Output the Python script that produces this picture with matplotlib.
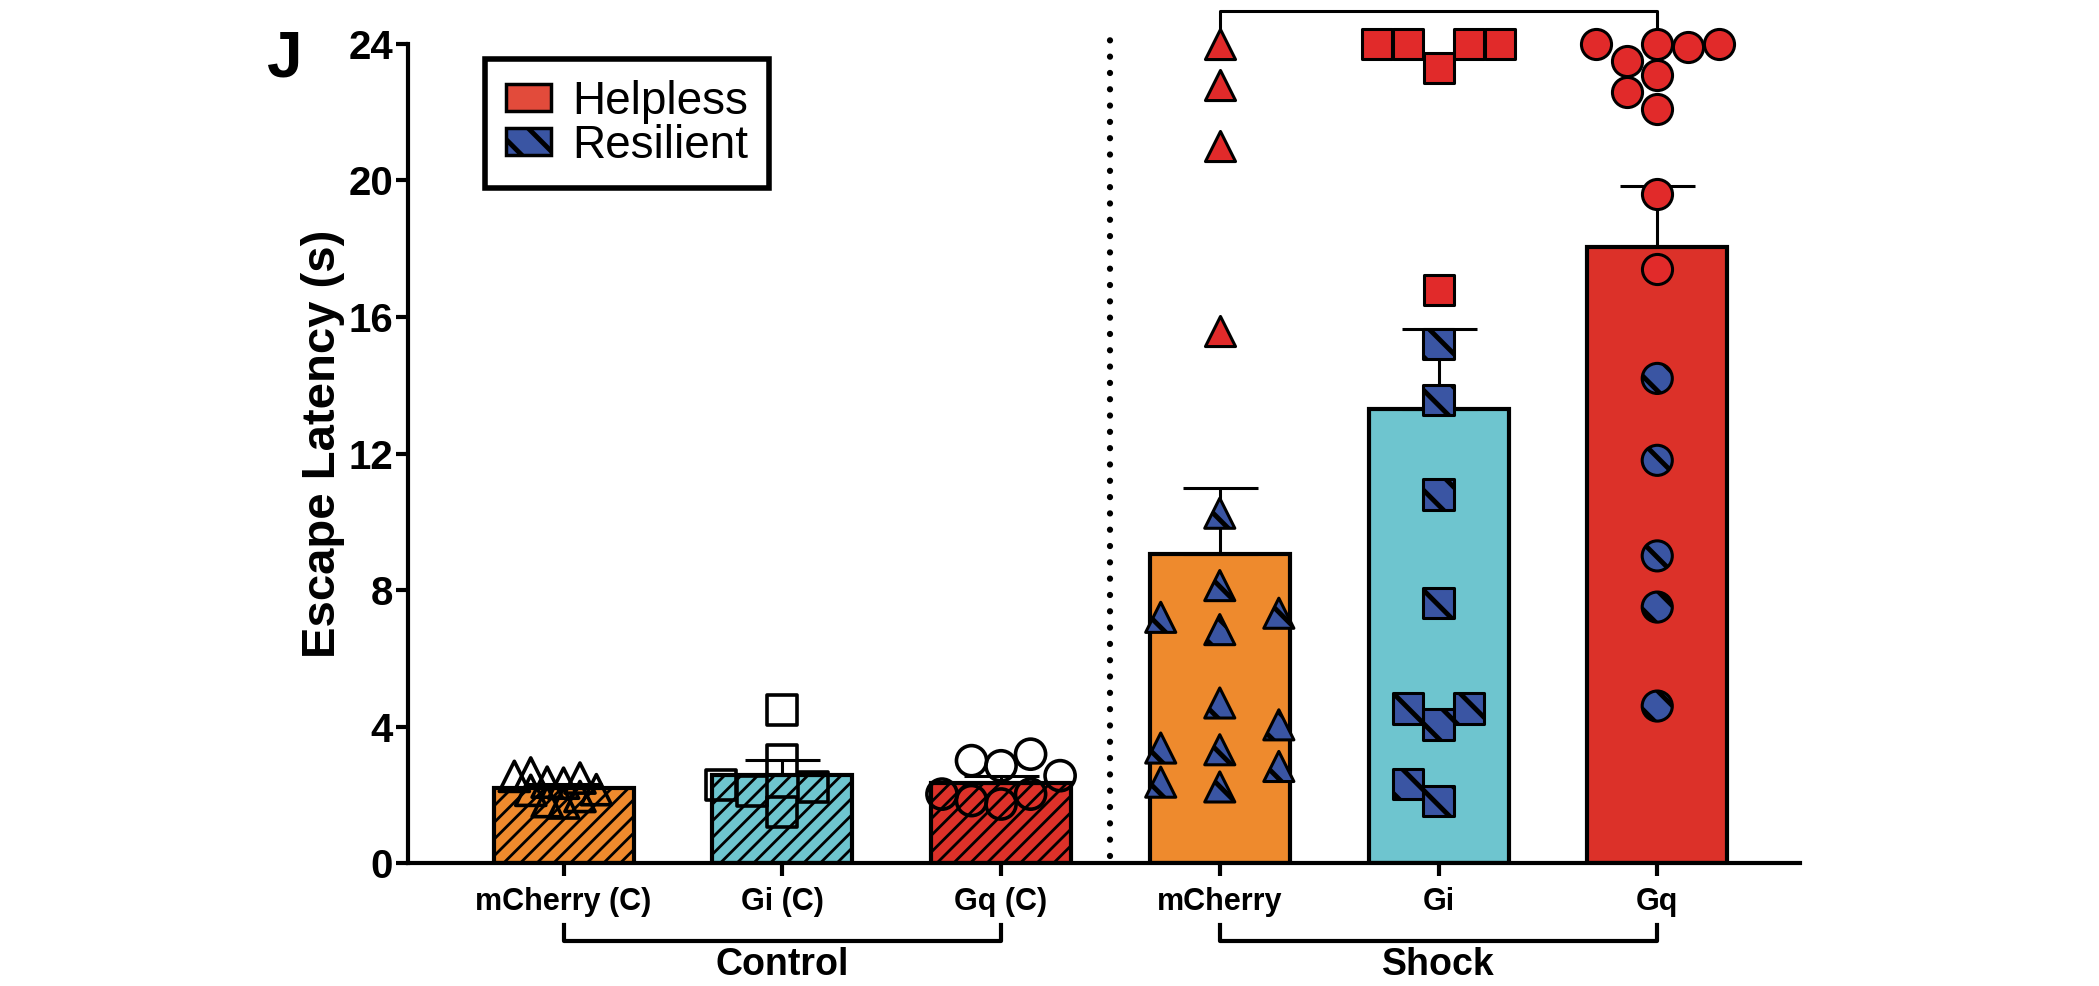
import numpy as np
import matplotlib
matplotlib.use("Agg")
import matplotlib.pyplot as plt
import matplotlib.patches as mpatches
from matplotlib.transforms import blended_transform_factory

plt.rcParams["font.family"] = ["Liberation Sans", "DejaVu Sans"]

# -------------------------------------------------------
# Data
# -------------------------------------------------------
GROUPS = ["mCherry (C)", "Gi (C)", "Gq (C)", "mCherry", "Gi", "Gq"]
MEANS = [2.2, 2.58, 2.36, 9.05, 13.3, 18.05]
SEMS = [0.11, 0.45, 0.2, 1.95, 2.35, 1.8]

CTRL_MCHERRY = [1.76, 1.8, 1.95, 2.13, 2.15, 2.34, 2.37, 2.49, 2.54, 2.64]
CTRL_GI = [1.49, 2.12, 2.22, 2.28, 3.03, 4.49]
CTRL_GQ = [1.73, 1.83, 2.02, 2.02, 2.56, 2.85, 3.0, 3.19]

SHOCK_MCHERRY_HELPLESS = [15.6, 21.0, 22.8, 24.0]
SHOCK_MCHERRY_RESILIENT = [2.23, 2.37, 2.83, 3.32, 3.37, 4.05, 4.69, 6.84,
                           7.2, 7.32, 8.13, 10.25]
SHOCK_GI_HELPLESS = [16.8, 23.3, 24.0, 24.0, 24.0, 24.0]
SHOCK_GI_RESILIENT = [1.81, 2.31, 4.06, 4.53, 4.53, 7.63, 10.8, 13.56, 15.2]
SHOCK_GQ_HELPLESS = [17.4, 19.6, 22.1, 22.6, 23.1, 23.5, 23.9, 24.0, 24.0, 24.0]
SHOCK_GQ_RESILIENT = [4.6, 7.5, 9.0, 11.8, 14.2]

GROUP_LABELS = ["Control", "Shock"]
LEGEND_LABELS = ["Helpless", "Resilient"]

# -------------------------------------------------------
# Style
# -------------------------------------------------------
BAR_COLORS = ["#EE8A2D", "#6EC5CF", "#DC3129", "#EE8A2D", "#6EC5CF", "#DC3129"]
MARKERS = ["^", "s", "o", "^", "s", "o"]
RED = "#E12A2A"
BLUE = "#3A55A3"
STEP = [0.075, 0.14, 0.135, 0.27, 0.14, 0.14]   # swarm column spacing
GAP = [0.5, 0.8, 0.85, 0.85, 0.85, 0.85]        # vertical overlap limit
MS = 470


def swarm(values, step, gap):
    """Simple beeswarm: put each point in the nearest free column."""
    values = np.asarray(values, dtype=float)
    offs = np.zeros(len(values))
    placed = []
    cands = [0] + [s * j for j in range(1, 20) for s in (-1, 1)]
    for i in np.argsort(values, kind="stable"):
        v = values[i]
        for c in cands:
            if all(not (pc == c and abs(v - pv) < gap) for pv, pc in placed):
                break
        offs[i] = c * step
        placed.append((v, c))
    return offs


def hatch_lw(artist, lw):
    if hasattr(artist, "set_hatch_linewidth"):
        artist.set_hatch_linewidth(lw)
    draw = artist.draw

    def _draw(renderer, _d=draw):
        with plt.rc_context({"hatch.linewidth": lw}):
            _d(renderer)
    artist.draw = _draw


fig = plt.figure(figsize=(20.99, 9.86), dpi=100)
ax = fig.add_axes([0.1945, 0.1247, 0.6632, 0.8307])
x = np.arange(len(GROUPS))

bars = ax.bar(x, MEANS, width=0.64, color=BAR_COLORS, edgecolor="black",
              linewidth=3, zorder=2)
for b in bars[:3]:
    b.set_hatch("//")
    hatch_lw(b, 2)

ax.errorbar(x, MEANS, yerr=[np.zeros(len(MEANS)), SEMS], fmt="none",
            ecolor="black", elinewidth=2.2, capsize=27, capthick=2.2, zorder=3)

# control points (open markers)
for i, vals in enumerate([CTRL_MCHERRY, CTRL_GI, CTRL_GQ]):
    offs = swarm(vals, STEP[i], GAP[i])
    ax.scatter(x[i] + offs, vals, marker=MARKERS[i], s=MS, facecolor="none",
               edgecolor="black", linewidths=2.6, zorder=4, clip_on=False)

# shock points (helpless red, resilient blue hatched)
shock = [(SHOCK_MCHERRY_HELPLESS, SHOCK_MCHERRY_RESILIENT),
         (SHOCK_GI_HELPLESS, SHOCK_GI_RESILIENT),
         (SHOCK_GQ_HELPLESS, SHOCK_GQ_RESILIENT)]
for k, (hel, res) in enumerate(shock):
    i = k + 3
    offs = swarm(list(hel) + list(res), STEP[i], GAP[i])
    ax.scatter(x[i] + offs[:len(hel)], hel, marker=MARKERS[i], s=MS,
               facecolor=RED, edgecolor="black", linewidths=2.2, zorder=4,
               clip_on=False)
    sc = ax.scatter(x[i] + offs[len(hel):], res, marker=MARKERS[i], s=MS,
                    facecolor=BLUE, edgecolor="black", linewidths=2.2,
                    hatch="\\", zorder=4, clip_on=False)
    hatch_lw(sc, 3.5)

# dotted separator
ax.plot([2.5, 2.5], [0.2, 24.45], color="black", lw=4.5,
        linestyle=(0, (0.01, 2.6)), dash_capstyle="round", clip_on=False,
        zorder=1)

ax.set_xlim(-0.71, 5.654)
ax.set_ylim(0, 24)
ax.set_yticks(np.arange(0, 25, 4))
ax.set_xticks(x)
ax.set_xticklabels(GROUPS, fontsize=22, fontweight="bold")
for lab in ax.get_yticklabels():
    lab.set_fontweight("bold")
ax.tick_params(axis="y", labelsize=29, length=9, width=3, pad=2)
ax.tick_params(axis="x", length=9, width=3, pad=8)
for s in ["top", "right"]:
    ax.spines[s].set_visible(False)
for s in ["left", "bottom"]:
    ax.spines[s].set_linewidth(3)

# brackets
tr = blended_transform_factory(ax.transData, fig.transFigure)
for g, (a, b) in enumerate([(0, 2), (3, 5)]):
    ax.plot([a, a, b, b], [0.062, 0.046, 0.046, 0.062], color="black",
            lw=3, transform=tr, clip_on=False)
    ax.text((a + b) / 2, 0.003, GROUP_LABELS[g], transform=tr, ha="center",
            va="bottom", fontsize=27, fontweight="bold")
ax.plot([3, 3, 5, 5], [0.973, 0.989, 0.989, 0.973], color="black", lw=2.2,
        transform=tr, clip_on=False)

fig.text(0.154, 0.55, "Escape Latency (s)", rotation=90, ha="center",
         va="center", fontsize=34, fontweight="bold")
fig.text(0.1355, 0.94, "J", ha="center", va="center", fontsize=46,
         fontweight="bold")

handles = [mpatches.Patch(facecolor="#E24B3B", edgecolor="black", lw=2.5),
           mpatches.Patch(facecolor=BLUE, edgecolor="black", lw=2.5, hatch="\\")]
leg = fig.legend(handles, LEGEND_LABELS, loc="upper left",
                 bbox_to_anchor=(485 / 2099, 1 - 59 / 986), frameon=True,
                 fancybox=False, edgecolor="black", framealpha=1,
                 fontsize=33, handlelength=1.0, handleheight=0.55,
                 handletextpad=0.45, labelspacing=0.0, borderpad=0.45,
                 borderaxespad=0)
leg.get_frame().set_linewidth(4)
for p in leg.get_patches():
    hatch_lw(p, 3.5)

fig.savefig("out.png", dpi=100)
